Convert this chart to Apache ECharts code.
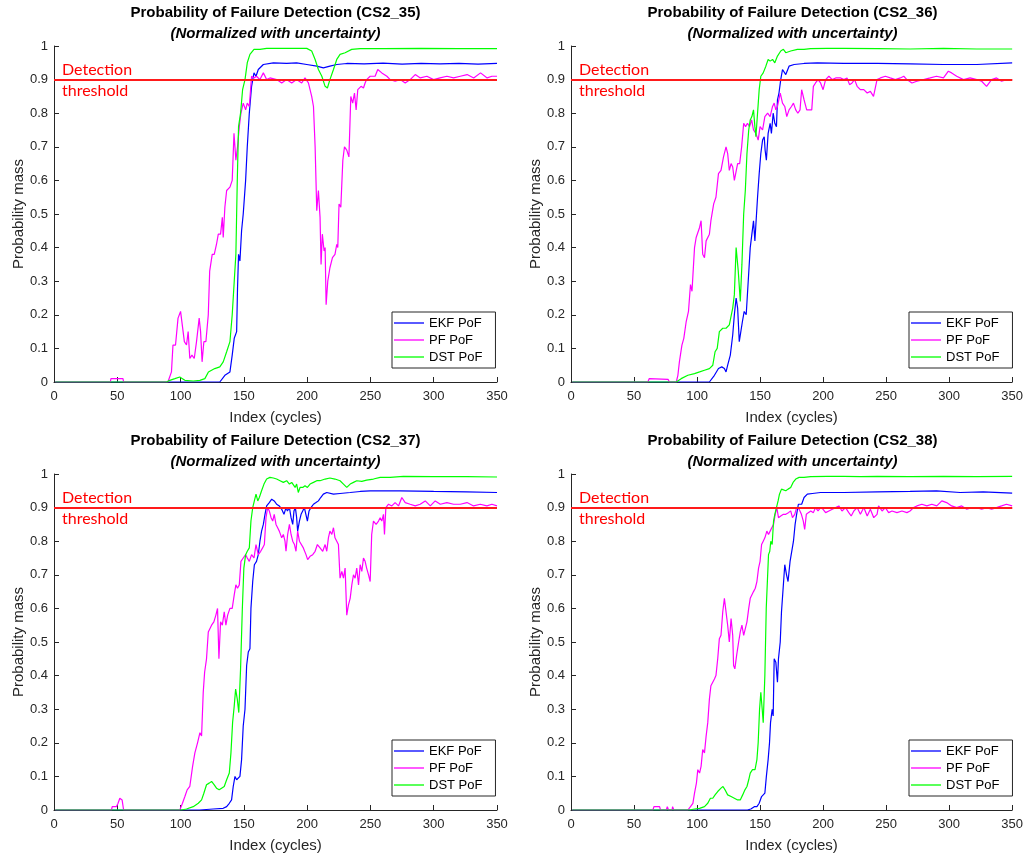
<!DOCTYPE html>
<html>
<head>
<meta charset="utf-8">
<script src="https://cdn.jsdelivr.net/npm/echarts@6/dist/echarts.min.js"></script>
<style>
html,body{margin:0;padding:0;background:#fff;}
#chart{width:1026px;height:860px;}
</style>
</head>
<body>
<div id="chart"></div>
<script>
// ---- Data (cycle index, probability) ----
const cells = ['CS2_35', 'CS2_36', 'CS2_37', 'CS2_38'];
const seriesNames = ['EKF PoF', 'PF PoF', 'DST PoF'];
const xTicks = [0, 50, 100, 150, 200, 250, 300, 350];
const yTicks = [0, 0.1, 0.2, 0.3, 0.4, 0.5, 0.6, 0.7, 0.8, 0.9, 1];
const threshold = 0.9;

// CS2_35
const ekf35 = [[1,0],[131,0],[135,0.02],[139,0.03],[140.8,0.08],[142.4,0.13],[144.3,0.15],[145,0.28],[145.8,0.38],[146.9,0.36],[148.2,0.45],[149.5,0.5],[151.4,0.6],[152.7,0.7],[154.3,0.8],[156.1,0.88],[158,0.92],[159.6,0.91],[161.4,0.93],[165.4,0.945],[173.3,0.95],[183.8,0.948],[191.7,0.95],[199.7,0.945],[207.6,0.94],[212.8,0.935],[218,0.94],[223.4,0.945],[231.3,0.948],[245,0.947],[260,0.949],[275,0.946],[290,0.948],[305,0.947],[320,0.948],[335,0.946],[350,0.948]];
const pf35 = [[1,0],[44.5,0],[45,0.01],[54.5,0.01],[55,0],[90,0],[92.8,0.03],[94,0.11],[96,0.11],[98,0.19],[100,0.21],[101.5,0.21],[103,0.12],[104.7,0.11],[106,0.15],[107.3,0.07],[109,0.08],[110.8,0.07],[112.6,0.12],[114.7,0.19],[115.8,0.15],[117,0.06],[118.4,0.12],[120,0.12],[121.9,0.2],[123,0.33],[125,0.38],[126.6,0.38],[128.4,0.41],[129.8,0.44],[131.6,0.44],[133,0.49],[133.7,0.43],[135,0.52],[136.4,0.57],[139,0.58],[140.8,0.6],[142.2,0.74],[143.7,0.66],[145,0.7],[146.4,0.76],[147.7,0.8],[149.5,0.83],[151.4,0.81],[152.7,0.83],[154.3,0.82],[156.1,0.91],[158,0.905],[160,0.91],[162.7,0.9],[165.4,0.92],[168,0.9],[170.6,0.905],[176,0.9],[179.9,0.89],[183.8,0.9],[187.8,0.89],[191.7,0.9],[195.7,0.89],[198.3,0.905],[201,0.89],[203.6,0.85],[205,0.82],[206.3,0.7],[207.6,0.51],[208.9,0.57],[210.2,0.49],[211,0.35],[212,0.44],[213.4,0.39],[214.2,0.4],[215,0.23],[216.3,0.3],[218,0.34],[220,0.37],[222,0.38],[223.4,0.41],[224.2,0.4],[225.2,0.53],[226.6,0.52],[228.2,0.66],[229.5,0.7],[231.3,0.69],[233,0.67],[234.5,0.85],[236,0.83],[237.4,0.86],[238.7,0.81],[240,0.87],[242.6,0.88],[244.5,0.875],[245.8,0.89],[247,0.9],[249.8,0.91],[253.7,0.91],[255.8,0.93],[259,0.92],[263,0.91],[265.6,0.9],[269.5,0.895],[273.5,0.9],[277.5,0.89],[281.4,0.9],[285.4,0.915],[289.4,0.905],[294.6,0.91],[299.9,0.9],[305,0.905],[310.4,0.91],[315.7,0.905],[321,0.91],[326.4,0.915],[331.6,0.905],[337,0.92],[342.2,0.905],[346,0.91],[350,0.91]];
const dst35 = [[1,0],[89,0],[91.5,0.005],[95.5,0.01],[99.4,0.015],[101.5,0.01],[103.4,0.005],[110,0.003],[115.3,0.005],[119.2,0.01],[122,0.03],[124.5,0.035],[127,0.04],[131,0.045],[133.7,0.06],[136.4,0.09],[139,0.12],[140.8,0.2],[142.4,0.3],[143.7,0.38],[144.8,0.6],[145.8,0.76],[147.4,0.8],[149,0.87],[150.9,0.9],[152.7,0.95],[154.8,0.975],[158,0.99],[162.7,0.99],[168,0.993],[178.6,0.993],[189,0.993],[199.7,0.993],[203.6,0.985],[206.3,0.96],[208.9,0.93],[211.6,0.91],[214.2,0.88],[216,0.875],[218,0.9],[220.8,0.93],[223.4,0.96],[226,0.975],[230,0.98],[235.2,0.99],[241.9,0.992],[260,0.992],[290,0.993],[320,0.992],[350,0.992]];

// CS2_36
const ekf36 = [[1,0],[109.8,0],[113.8,0.02],[117,0.04],[119.6,0.045],[121.7,0.04],[123,0.03],[124.3,0.05],[126.4,0.08],[128.3,0.14],[129.6,0.2],[131,0.25],[132.2,0.22],[133.5,0.12],[134.8,0.12],[136,0.18],[137.4,0.21],[139,0.2],[140.6,0.3],[142.2,0.4],[143.5,0.44],[144.8,0.48],[145.9,0.42],[147,0.42],[148,0.55],[149.3,0.62],[150.6,0.68],[152,0.72],[153.3,0.73],[154,0.69],[155,0.66],[156.4,0.74],[158,0.77],[159,0.74],[160.4,0.8],[161.7,0.77],[163,0.76],[163.8,0.84],[165,0.86],[166.4,0.9],[167.8,0.93],[169,0.935],[170.4,0.915],[171.7,0.92],[173,0.94],[177,0.945],[184.9,0.948],[195.4,0.95],[216.5,0.948],[243,0.948],[269,0.947],[295.5,0.945],[322,0.945],[350,0.95]];
const pf36 = [[1,0],[61,0],[62,0.01],[77,0.008],[78,0],[83.5,0],[84.8,0.02],[86,0.06],[88,0.11],[89.5,0.13],[91.4,0.18],[93.2,0.21],[94.8,0.29],[96,0.27],[98,0.4],[99.3,0.43],[100.6,0.43],[102,0.46],[103.2,0.48],[104.5,0.38],[105.9,0.37],[107.2,0.42],[108.5,0.42],[109.8,0.44],[111,0.48],[113.2,0.53],[115,0.55],[117,0.62],[119,0.63],[121,0.67],[123,0.7],[124.3,0.68],[125.6,0.63],[127,0.65],[128.3,0.64],[129.6,0.6],[131,0.6],[132.2,0.65],[133.8,0.65],[135.4,0.7],[137,0.77],[138.5,0.76],[140,0.77],[141.7,0.76],[143.3,0.78],[144.8,0.75],[146.7,0.74],[148.5,0.72],[150,0.76],[152,0.75],[153.8,0.79],[156,0.8],[158,0.79],[159.9,0.82],[161.2,0.83],[162.5,0.81],[163.8,0.82],[166,0.86],[167.8,0.83],[169.6,0.82],[171.2,0.79],[173,0.81],[174.9,0.82],[176.5,0.83],[178.3,0.81],[180,0.8],[181.7,0.81],[183,0.87],[184.9,0.84],[187,0.81],[188.8,0.81],[191,0.81],[192.3,0.88],[194,0.89],[196,0.9],[198,0.89],[200,0.87],[202,0.9],[204.6,0.91],[207.3,0.9],[210,0.905],[214,0.905],[216.5,0.9],[219,0.905],[221,0.885],[223,0.89],[225,0.9],[227,0.88],[229.6,0.87],[232.3,0.87],[235,0.86],[237.5,0.865],[240,0.85],[241.5,0.845],[242.8,0.9],[245.5,0.905],[249.4,0.91],[253.3,0.905],[257.3,0.9],[261.3,0.905],[264,0.91],[266.5,0.9],[270.5,0.89],[274.4,0.895],[279.7,0.9],[285,0.905],[290,0.91],[295.5,0.905],[299.4,0.925],[302,0.92],[306,0.91],[311.4,0.9],[316.6,0.905],[322,0.9],[325.8,0.895],[329.7,0.88],[333.7,0.9],[337.6,0.905],[341.6,0.895],[345.5,0.9],[350,0.9]];
const dst36 = [[1,0],[83.5,0],[87.4,0.01],[92.7,0.02],[98,0.025],[102,0.03],[105.9,0.035],[109.8,0.04],[112.5,0.05],[114.3,0.09],[116,0.1],[117.7,0.15],[120.4,0.16],[123,0.16],[125.6,0.17],[128.3,0.22],[129.6,0.26],[131,0.4],[132.7,0.33],[134.3,0.24],[135.6,0.35],[137,0.5],[138.3,0.57],[139.6,0.68],[141,0.75],[142.2,0.78],[143.5,0.79],[144.8,0.81],[145.9,0.76],[146.7,0.73],[148,0.8],[149.3,0.87],[150.6,0.91],[152.5,0.92],[154.6,0.94],[156.4,0.96],[158,0.955],[159.9,0.96],[161.7,0.95],[163.8,0.97],[166.4,0.985],[168.5,0.99],[170.4,0.98],[174.3,0.985],[179.6,0.99],[184.9,0.99],[190,0.992],[203.3,0.993],[216.5,0.993],[243,0.992],[269,0.991],[295.5,0.993],[322,0.991],[350,0.991]];

// CS2_37
const ekf37 = [[1,0],[115,0],[125.8,0.003],[133.7,0.005],[136.4,0.01],[138.5,0.02],[140.3,0.03],[141.6,0.07],[143,0.1],[144.3,0.09],[145.6,0.09],[146.9,0.1],[148.2,0.15],[149.5,0.25],[150.9,0.3],[152.2,0.43],[153.5,0.47],[154.8,0.48],[155.6,0.6],[157,0.68],[158.3,0.73],[160,0.74],[161.4,0.76],[162.7,0.8],[164,0.83],[165.4,0.85],[166.7,0.88],[168,0.905],[170.1,0.915],[172,0.925],[174,0.92],[175.9,0.91],[178,0.905],[179.9,0.895],[181.7,0.88],[183.3,0.9],[184.4,0.89],[186,0.9],[187.3,0.87],[188.6,0.85],[189.6,0.89],[190.7,0.9],[191.7,0.87],[192.5,0.83],[193.9,0.86],[195.2,0.88],[196.5,0.89],[197.8,0.9],[199.1,0.9],[200.2,0.86],[201.5,0.89],[203,0.9],[205,0.91],[207,0.915],[208.9,0.92],[210.7,0.93],[212.8,0.94],[215.5,0.945],[220.8,0.94],[226,0.942],[234,0.945],[241.9,0.948],[249.8,0.95],[273.5,0.95],[300,0.948],[326,0.947],[350,0.945]];
const pf37 = [[1,0],[45.4,0],[46,0.01],[49.3,0.01],[50.6,0.02],[52,0.035],[53.8,0.03],[55,0],[99.4,0],[101.5,0.02],[103.4,0.04],[105.2,0.06],[107.3,0.07],[109.5,0.13],[111.3,0.17],[113.4,0.2],[115.3,0.23],[116.6,0.22],[117.9,0.35],[119,0.41],[120.5,0.45],[121.9,0.53],[123.2,0.53],[124.5,0.55],[126.3,0.56],[127.9,0.58],[129.2,0.6],[130.3,0.45],[131.6,0.56],[133,0.55],[134.5,0.59],[135.8,0.55],[137.2,0.58],[139,0.6],[140.8,0.6],[142.4,0.64],[143.7,0.67],[145,0.66],[146.4,0.67],[147.7,0.74],[149.5,0.75],[151.4,0.76],[152.7,0.75],[154.3,0.74],[156.1,0.76],[158,0.75],[159.6,0.79],[161.4,0.76],[163.3,0.77],[164.8,0.78],[166.2,0.79],[167.5,0.87],[168.8,0.9],[170.1,0.89],[171.5,0.87],[172.8,0.86],[174,0.88],[175.4,0.85],[176.7,0.84],[178,0.83],[179.9,0.81],[181.2,0.82],[182.5,0.8],[183.3,0.77],[184.6,0.82],[186,0.85],[187.3,0.82],[188.6,0.8],[190,0.79],[191.2,0.77],[192.5,0.83],[193.9,0.8],[195.2,0.8],[197,0.78],[199.1,0.76],[200.4,0.745],[202.3,0.755],[204.4,0.76],[206.3,0.77],[208.1,0.79],[210.2,0.78],[212.3,0.77],[214.2,0.79],[215.5,0.77],[216.8,0.81],[218,0.83],[219.5,0.82],[220.8,0.84],[222,0.81],[223.4,0.8],[224.7,0.79],[226,0.69],[227.4,0.71],[228.7,0.69],[230,0.72],[231.3,0.58],[232.6,0.61],[234,0.63],[235.3,0.67],[236.6,0.7],[237.9,0.69],[239.2,0.72],[240.6,0.67],[241.9,0.73],[243.2,0.71],[244.5,0.75],[245.8,0.74],[247,0.72],[248.5,0.7],[249.8,0.68],[251,0.82],[252.4,0.86],[254.5,0.85],[256.4,0.86],[257.7,0.87],[259,0.86],[260.3,0.88],[261.1,0.82],[262.2,0.9],[264.3,0.91],[266.9,0.905],[269.5,0.915],[272.2,0.905],[274.8,0.93],[277.5,0.915],[281.4,0.91],[285.4,0.905],[289.3,0.91],[293.3,0.92],[297.3,0.905],[301.2,0.92],[305.2,0.91],[310.4,0.915],[315.7,0.91],[321,0.91],[326.3,0.915],[331.5,0.905],[336.8,0.91],[342,0.905],[346,0.91],[350,0.905]];
const dst37 = [[1,0],[100.7,0],[104.7,0.003],[110,0.01],[114,0.02],[116.6,0.03],[118.4,0.05],[120.5,0.075],[122.6,0.08],[124.5,0.085],[126.6,0.075],[128.4,0.065],[130.5,0.06],[132.4,0.065],[134.5,0.07],[136.4,0.09],[138.5,0.11],[139.8,0.17],[141.1,0.26],[142.4,0.31],[143.5,0.36],[144.8,0.33],[146,0.29],[147.4,0.42],[148.8,0.6],[150,0.72],[151.4,0.76],[152.7,0.77],[154.3,0.78],[155.6,0.86],[157,0.9],[158.3,0.92],[159.6,0.94],[161,0.92],[162.2,0.93],[164,0.95],[165.9,0.97],[168,0.985],[170.6,0.99],[173.3,0.988],[175.9,0.985],[178.6,0.98],[181.2,0.975],[183.8,0.98],[186,0.97],[187.8,0.975],[189,0.97],[190.5,0.96],[191.7,0.97],[193,0.945],[194.4,0.96],[196.5,0.96],[198.3,0.965],[200.2,0.96],[202.3,0.97],[205,0.975],[207.6,0.98],[210.2,0.98],[214.2,0.985],[218,0.988],[222,0.985],[226,0.98],[228.7,0.97],[231.3,0.96],[234,0.97],[236.6,0.975],[239.2,0.98],[243.2,0.978],[247,0.982],[252.4,0.985],[257.7,0.99],[265.6,0.99],[276,0.993],[300,0.992],[326,0.992],[350,0.991]];

// CS2_38
const ekf38 = [[1,0],[140,0],[142.7,0.003],[145.4,0.01],[147.5,0.01],[149.3,0.02],[151.2,0.04],[152.5,0.035],[153.8,0.05],[155,0.1],[156.4,0.15],[157.5,0.2],[158.3,0.26],[159.6,0.3],[160.4,0.28],[161.2,0.45],[162.5,0.44],[163.8,0.38],[164.6,0.45],[166,0.5],[167,0.59],[168.3,0.66],[169.6,0.73],[171,0.7],[172.2,0.68],[173.8,0.74],[175,0.74],[176.5,0.8],[177.8,0.85],[179,0.88],[180.4,0.91],[181.7,0.915],[183,0.91],[184.9,0.93],[187.5,0.94],[191.5,0.942],[198,0.945],[216.5,0.945],[243,0.947],[269,0.948],[290,0.95],[308.7,0.945],[327,0.947],[350,0.943]];
const pf38 = [[1,0],[65,0],[65.8,0.01],[70.3,0.01],[71,0],[75.6,0],[76.4,0.01],[77.4,0],[80.2,0],[80.6,0.01],[81.6,0],[92.7,0],[94.8,0.01],[96.7,0.02],[98,0.05],[99.5,0.08],[100.6,0.12],[102,0.11],[103.2,0.13],[104.5,0.18],[105.9,0.17],[107.2,0.22],[108.5,0.26],[109.8,0.33],[111,0.37],[112.5,0.37],[113.8,0.39],[115,0.4],[116.4,0.45],[117.7,0.51],[119,0.52],[120.4,0.59],[121.7,0.63],[123,0.63],[124.3,0.55],[125.6,0.5],[127,0.57],[128.3,0.52],[129,0.43],[130,0.42],[131.4,0.46],[133,0.5],[134.3,0.53],[135.6,0.55],[137,0.52],[138.3,0.54],[139.6,0.56],[141,0.6],[142.2,0.63],[143.5,0.63],[144.8,0.65],[146.2,0.66],[147.5,0.68],[148.8,0.72],[150,0.74],[151.2,0.79],[152.5,0.8],[153.8,0.81],[155.4,0.83],[156.7,0.82],[158,0.83],[159.3,0.84],[160.7,0.85],[162,0.88],[163.3,0.9],[164.6,0.87],[166.4,0.875],[168.5,0.88],[170.4,0.88],[172.5,0.885],[174.3,0.89],[175.7,0.87],[177.5,0.88],[179,0.9],[181,0.895],[182.8,0.88],[184.3,0.86],[185.4,0.835],[186.7,0.88],[188.3,0.885],[190.2,0.89],[192.3,0.885],[194,0.9],[196,0.89],[198,0.9],[200,0.895],[202,0.885],[204.6,0.89],[207.3,0.895],[210,0.9],[212.5,0.905],[215,0.89],[217.8,0.9],[220.4,0.885],[222.3,0.875],[224.4,0.89],[227,0.9],[229.6,0.88],[232.3,0.9],[235,0.875],[237.5,0.895],[240.2,0.87],[242.8,0.88],[244,0.905],[246.8,0.89],[249.4,0.9],[252,0.885],[254.7,0.89],[258.6,0.885],[262.6,0.89],[266.5,0.885],[269,0.89],[271.8,0.9],[274.4,0.905],[278.4,0.91],[282.3,0.905],[286.3,0.91],[290.2,0.905],[294.2,0.92],[298,0.915],[302,0.905],[306,0.9],[310,0.905],[314,0.895],[318,0.9],[322,0.9],[325.8,0.895],[329.7,0.9],[333.7,0.895],[337.6,0.9],[341.6,0.905],[345.5,0.91],[350,0.905]];
const dst38 = [[1,0],[94,0],[98,0.003],[102,0.005],[105.9,0.01],[108.5,0.02],[110.6,0.035],[112.5,0.035],[114.3,0.045],[116.4,0.055],[119,0.065],[120.6,0.07],[122.2,0.06],[124.3,0.045],[127,0.04],[129.6,0.035],[132.2,0.03],[134.3,0.03],[136.2,0.045],[138,0.06],[139.6,0.07],[141,0.09],[142.2,0.11],[144,0.12],[146,0.12],[147.5,0.15],[148.5,0.2],[149.6,0.3],[150.6,0.35],[151.7,0.3],[152.5,0.26],[153.8,0.4],[154.9,0.6],[156,0.6],[156.7,0.76],[157.7,0.77],[158.5,0.8],[159.6,0.79],[160.7,0.86],[161.7,0.88],[163,0.9],[164.3,0.92],[165.4,0.94],[167,0.955],[168.5,0.96],[170.4,0.95],[172.2,0.955],[174.3,0.96],[176.2,0.975],[178.3,0.985],[181,0.99],[184.9,0.99],[190.2,0.992],[203.3,0.993],[216.5,0.993],[229.6,0.992],[243,0.993],[269,0.992],[295.5,0.993],[322,0.992],[350,0.993]];

const ekfData = [ekf35, ekf36, ekf37, ekf38];
const pfData = [pf35, pf36, pf37, pf38];
const dstData = [dst35, dst36, dst37, dst38];

// ---- Layout ----
const FONT = '"Liberation Sans", Arial, sans-serif';
const AXC = '#262626';
const grids = [
  {left: 54, top: 46}, {left: 571, top: 46},
  {left: 54, top: 474}, {left: 571, top: 474}
];
const GW = 443, GH = 336;
const colors = ['#0000ff', '#ff00ff', '#00ff00'];

const option = {
  animation: false,
  backgroundColor: '#ffffff',
  textStyle: {fontFamily: FONT},
  title: [], grid: [], xAxis: [], yAxis: [], legend: [], series: []
};

grids.forEach((g, i) => {
  option.grid.push({left: g.left, top: g.top, width: GW, height: GH, containLabel: false});
  option.title.push({
    text: 'Probability of Failure Detection (' + cells[i] + ')',
    subtext: '(Normalized with uncertainty)',
    left: g.left + GW / 2, top: g.top - 41, textAlign: 'center',
    itemGap: 6.5, padding: 0,
    textStyle: {fontFamily: FONT, fontSize: 15, fontWeight: 'bold', color: '#000'},
    subtextStyle: {fontFamily: FONT, fontSize: 15, fontWeight: 'bold', fontStyle: 'italic', color: '#000'}
  });
  option.xAxis.push({
    type: 'value', gridIndex: i, min: 0, max: 350, interval: 50,
    name: 'Index (cycles)', nameLocation: 'middle', nameGap: 28,
    nameTextStyle: {fontFamily: FONT, fontSize: 15, color: AXC},
    axisLine: {show: true, lineStyle: {color: AXC, width: 1}},
    axisTick: {show: true, inside: true, length: 5, lineStyle: {color: AXC}},
    axisLabel: {fontFamily: FONT, fontSize: 13, color: AXC, margin: 8,
      formatter: v => xTicks.includes(v) ? String(v) : ''},
    splitLine: {show: false}
  });
  option.yAxis.push({
    type: 'value', gridIndex: i, min: 0, max: 1, interval: 0.1,
    name: 'Probability mass', nameLocation: 'middle', nameGap: 28,
    nameTextStyle: {fontFamily: FONT, fontSize: 15, color: AXC},
    axisLine: {show: true, lineStyle: {color: AXC, width: 1}},
    axisTick: {show: true, inside: true, length: 5, lineStyle: {color: AXC}},
    axisLabel: {fontFamily: FONT, fontSize: 13, color: AXC, margin: 6,
      formatter: v => { const t = yTicks.find(y => Math.abs(y - v) < 1e-6); return t === undefined ? '' : String(t); }},
    splitLine: {show: false}
  });
  option.legend.push({
    data: seriesNames.map(n => ({name: n, icon: 'rect'})), orient: 'vertical',
    left: g.left + 338, top: g.top + 266,
    itemWidth: 30, itemHeight: 1.3, itemGap: 3,
    padding: [4, 13, 4, 2], borderColor: AXC, borderWidth: 1,
    backgroundColor: '#fff',
    textStyle: {fontFamily: FONT, fontSize: 13, color: '#000', lineHeight: 14, height: 14},
    selectedMode: false
  });
  const sets = [ekfData[i], pfData[i], dstData[i]];
  sets.forEach((d, k) => {
    option.series.push({
      name: seriesNames[k], type: 'line', xAxisIndex: i, yAxisIndex: i,
      data: d, symbol: 'none', showSymbol: false,
      lineStyle: {color: colors[k], width: 1.2}, itemStyle: {color: colors[k]},
      z: 2 + k
    });
  });
  option.series.push({
    name: 'threshold', type: 'line', xAxisIndex: i, yAxisIndex: i,
    data: [], symbol: 'none',
    markLine: {
      silent: true, symbol: 'none', animation: false,
      lineStyle: {color: '#ff1a1a', width: 2, type: 'solid'},
      emphasis: {disabled: true},
      data: [
        {yAxis: threshold, label: {show: true, position: 'insideStartTop', formatter: 'Detection',
          fontFamily: 'Lato, "Open Sans", sans-serif', fontSize: 16, color: '#ff0000', distance: [8, 2]}},
        {yAxis: threshold, label: {show: true, position: 'insideStartBottom', formatter: 'threshold',
          fontFamily: 'Lato, "Open Sans", sans-serif', fontSize: 16, color: '#ff0000', distance: [8, 3]}}
      ]
    },
    z: 10
  });
});

const chart = echarts.init(document.getElementById('chart'), null, {renderer: 'canvas'});
chart.setOption(option);
</script>
</body>
</html>
